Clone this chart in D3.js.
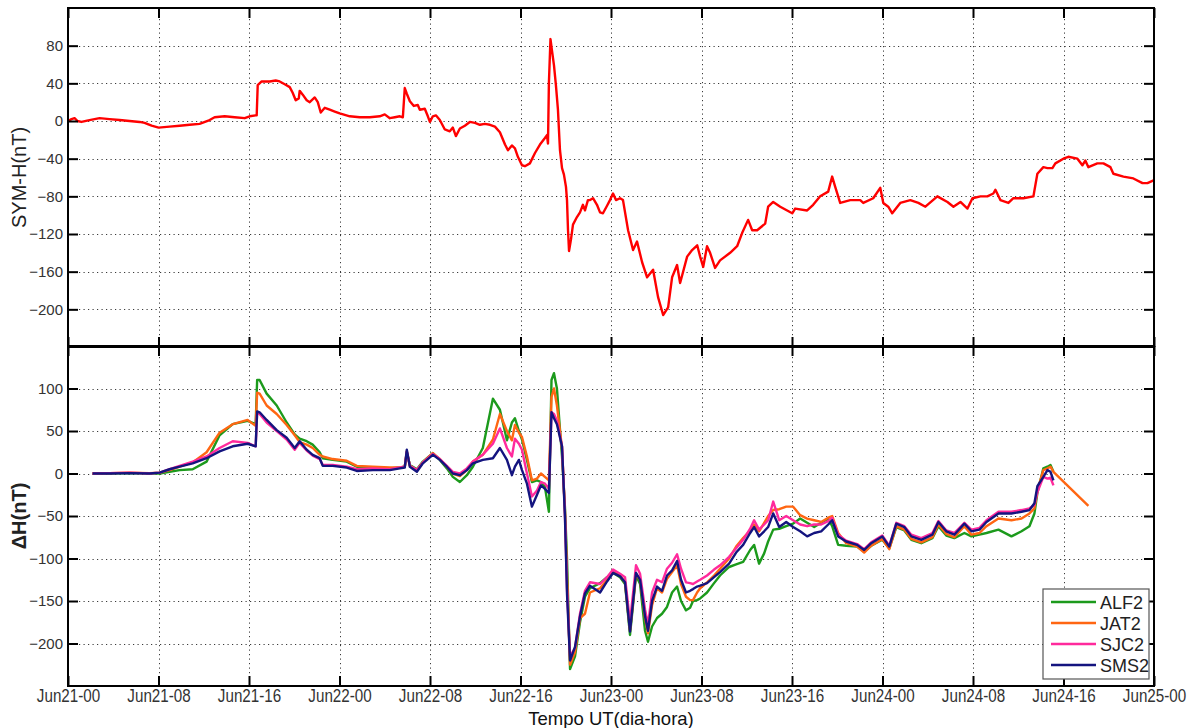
<!DOCTYPE html>
<html>
<head>
<meta charset="utf-8">
<script src="https://cdn.jsdelivr.net/npm/d3@7"></script>
<style>
  body { margin: 0; background: #fff; }
  svg { display: block; }
</style>
</head>
<body>
<svg id="chart" width="1192" height="728"></svg>
<script>
// ---- SYM-H index (hours since Jun21 00:00 UT, nT) ----
const symhHours = [
  0, 0.31, 0.58, 0.84, 1.19, 1.90, 2.79, 3.67, 4.56, 5.44, 6.33, 6.77, 7.39, 8.01, 8.98, 9.87,
  10.75, 11.63, 12.52, 12.96, 13.85, 14.73, 15.62, 16.06, 16.59, 16.68, 16.77, 17.12, 17.83, 18.36,
  18.71, 19.16, 19.60, 19.86, 20.13, 20.40, 20.48, 20.75, 21.10, 21.37, 21.81, 22.08, 22.34, 22.70,
  23.14, 23.58, 24.02, 24.91, 25.79, 26.68, 27.56, 28.00, 28.45, 28.89, 29.33, 29.60, 29.77, 29.95,
  30.22, 30.57, 30.92, 31.10, 31.54, 31.81, 31.99, 32.25, 32.52, 32.87, 33.31, 33.75, 34.02, 34.29,
  34.64, 35.08, 35.52, 35.97, 36.41, 36.85, 37.30, 37.74, 38.18, 38.63, 38.89, 39.24, 39.51, 39.77,
  40.13, 40.39, 40.83, 41.28, 41.72, 42.16, 42.34, 42.43, 42.51, 42.65, 42.78, 42.96, 43.13, 43.31,
  43.49, 43.67, 43.84, 44.02, 44.11, 44.20, 44.29, 44.46, 44.64, 44.99, 45.26, 45.52, 45.70, 45.96,
  46.14, 46.41, 46.76, 47.03, 47.29, 47.65, 47.91, 48.18, 48.44, 48.80, 49.06, 49.51, 49.95, 50.30,
  50.75, 51.19, 51.72, 52.16, 52.61, 53.05, 53.40, 53.84, 54.11, 54.73, 55.17, 55.62, 55.88, 56.15,
  56.49, 56.76, 57.20, 57.64, 58.53, 59.15, 59.59, 60.12, 60.48, 60.92, 61.63, 61.89, 62.34, 62.96,
  64.02, 64.28, 65.34, 65.87, 66.49, 67.20, 67.55, 67.82, 68.26, 69.15, 70.03, 70.30, 71.18, 71.80,
  72.07, 72.51, 72.86, 73.57, 74.46, 75.17, 75.79, 76.85, 77.74, 78.27, 78.89, 79.51, 79.95, 80.66,
  81.27, 81.80, 81.98, 82.42, 83.13, 83.57, 84.45, 85.34, 85.69, 86.22, 86.58, 87.02, 87.28, 87.99,
  88.43, 89.23, 89.67, 89.93, 90.20, 90.99, 91.53, 92.15, 92.41, 93.30, 94.18, 94.98, 95.42, 95.96
];
const symhValues = [
  0, 2, 3, 0, -1, 1, 3, 2, 1, 0, -1, -2, -5, -7, -6, -5,
  -4, -3, 1, 4, 5, 4, 3, 5, 6, 6, 38, 42, 42, 43,
  42, 39, 36, 30, 22, 24, 32, 28, 22, 20, 25, 20, 9, 14,
  12, 10, 8, 5, 4, 4, 5, 7, 3, 4, 5, 4, 35, 29,
  21, 16, 17, 12, 13, 5, -1, 5, 6, 1, -9, -11, -7, -16,
  -8, -5, -1, -2, -4, -3, -4, -6, -12, -25, -31, -26, -29, -38,
  -47, -48, -45, -34, -25, -18, -15, -24, 40, 87, 75, 59, 38, 12,
  -31, -50, -57, -70, -84, -116, -138, -126, -110, -102, -97, -89, -95, -84,
  -84, -82, -89, -97, -98, -90, -84, -77, -84, -82, -84, -116, -137, -128,
  -150, -166, -158, -187, -206, -198, -166, -153, -172, -144, -137, -132, -144, -155,
  -133, -140, -156, -148, -140, -133, -119, -105, -116, -116, -109, -91, -86, -91,
  -98, -93, -95, -89, -80, -75, -59, -70, -87, -84, -84, -87, -82, -71,
  -87, -91, -98, -87, -84, -87, -91, -80, -86, -91, -86, -93, -82, -80,
  -80, -77, -73, -84, -87, -82, -82, -80, -56, -49, -50, -50, -45, -40,
  -38, -40, -47, -42, -49, -45, -45, -49, -56, -59, -61, -66, -66, -63
];

// ---- Station ΔH (hours since Jun21 00:00 UT, nT) ----
const stationHours = [
  2.17, 3.67, 5.44, 7.21, 8.10, 8.98, 9.87, 11.02, 12.25, 13.40, 14.56, 15.88, 16.59, 16.72, 16.94,
  17.56, 18.45, 19.33, 20.04, 20.48, 21.10, 21.63, 22.25, 22.52, 23.40, 24.64, 25.53, 26.94, 28.45,
  29.33, 29.77, 29.95, 30.22, 30.84, 31.37, 32.25, 32.87, 33.49, 34.02, 34.64, 35.26, 35.79, 36.67,
  37.56, 38.18, 38.80, 39.24, 39.51, 39.86, 40.13, 40.57, 41.01, 41.46, 41.81, 42.16, 42.51, 42.74,
  42.96, 43.22, 43.67, 43.93, 44.11, 44.38, 44.82, 45.26, 45.70, 46.14, 47.03, 47.65, 48.18, 48.80,
  49.24, 49.68, 50.21, 50.57, 51.01, 51.27, 51.63, 52.07, 52.51, 52.95, 53.40, 53.84, 54.19, 54.63,
  54.99, 55.25, 55.61, 55.88, 56.49, 57.11, 57.64, 58.44, 59.06, 59.68, 60.30, 60.65, 61.09, 61.54,
  61.89, 62.34, 62.87, 63.49, 64.10, 64.72, 65.34, 65.96, 66.58, 67.20, 67.55, 68.08, 68.79, 69.76,
  70.38, 71.00, 71.98, 72.60, 73.22, 73.93, 74.55, 75.43, 76.41, 76.94, 77.64, 78.35, 79.24, 79.86,
  80.57, 81.19, 82.25, 83.40, 84.29, 84.99, 85.43, 85.69, 86.22, 86.58, 86.85, 87.11, 90.20
];
const alf2 = [
  0, 0, 0.5, 0, 0, 2, 4, 5, 14, 45, 58, 62, 58, 110, 110,
  94, 80, 60, 46, 41, 38, 34, 25, 18, 16, 14, 8, 7, 6,
  7, 8, 25, 10, 5, 14, 24, 16, 6, -4, -10, -2, 8, 30,
  88, 75, 39, 60, 65, 50, 40, 16, -10, -8, -10, -16, -45, 110,
  118, 100, 20, -40, -100, -230, -215, -175, -145, -135, -129, -122, -117, -122,
  -130, -190, -120, -130, -185, -198, -180, -170, -165, -157, -140, -133, -150, -161,
  -158, -150, -149, -147, -140, -129, -120, -110, -107, -104, -90, -84, -106, -94,
  -80, -66, -65, -62, -59, -53, -58, -63, -58, -53, -62, -84, -85, -86,
  -92, -85, -78, -88, -63, -67, -78, -82, -76, -62, -73, -76, -70, -74,
  -72, -70, -66, -74, -68, -62, -47, -23, 6, 8, 10, 2, null
];
const jat2 = [
  0, 0.5, 1, 0.5, 1, 4, 8, 13, 25, 48, 58, 63, 56, 95, 94,
  80, 70, 57, 45, 37, 34, 30, 22, 20, 17, 15, 9, 8, 7,
  7, 8, 26, 9, 4, 13, 24, 17, 8, 0, -3, 4, 14, 22,
  40, 70, 50, 39, 57, 48, 43, 20, -8, -6, 0, -4, -8, 90,
  100, 80, 30, -45, -120, -225, -210, -170, -165, -140, -135, -125, -115, -120,
  -128, -185, -118, -125, -170, -188, -155, -135, -140, -124, -116, -108, -130, -145,
  -149, -149, -140, -135, -128, -120, -112, -100, -86, -76, -67, -60, -68, -58,
  -50, -43, -42, -39, -39, -49, -53, -55, -57, -52, -50, -70, -82, -86,
  -93, -85, -77, -89, -62, -66, -77, -81, -75, -60, -71, -75, -62, -72,
  -70, -62, -53, -55, -53, -47, -41, -20, 4, 6, 8, 2, -38
];
const sjc2 = [
  0, 0.5, 1, 0, 1, 5, 9, 14, 20, 30, 38, 36, 32, 72, 70,
  60, 50, 40, 28, 36, 27, 21, 17, 10, 10, 8, 5, 6, 5,
  7, 8, 26, 9, 4, 13, 23, 17, 9, 2, 0, 6, 14, 22,
  35, 53, 30, 20, 41, 35, 28, 0, -27, -20, -10, -12, -18, 72,
  70, 62, 32, -48, -135, -215, -205, -165, -138, -128, -130, -122, -113, -118,
  -122, -175, -108, -118, -160, -178, -140, -125, -128, -112, -105, -95, -112, -128,
  -129, -130, -127, -125, -120, -113, -108, -98, -88, -78, -65, -55, -66, -60,
  -55, -33, -55, -50, -55, -60, -62, -60, -60, -56, -52, -72, -79, -83,
  -89, -81, -73, -85, -58, -62, -72, -76, -70, -56, -67, -70, -58, -66,
  -64, -55, -45, -45, -43, -41, -37, -22, -4, -6, -5, -14, null
];
const sms2 = [
  0, 0, 0.5, 0, 1, 5, 8, 12, 18, 26, 32, 35, 32, 73, 72,
  63, 51, 42, 30, 38, 28, 22, 18, 9, 9, 7, 3, 4, 4,
  6, 7, 28, 8, 2, 12, 22, 16, 8, 0, -2, 4, 12, 16,
  18, 30, 16, -2, 8, 16, 4, -12, -39, -25, -14, -18, -23, 72,
  65, 58, 32, -51, -141, -220, -204, -168, -141, -132, -140, -127, -117, -121,
  -128, -186, -117, -125, -168, -185, -150, -133, -138, -120, -114, -103, -125, -140,
  -138, -136, -133, -132, -129, -122, -116, -106, -93, -84, -70, -63, -74, -68,
  -63, -47, -63, -57, -63, -68, -74, -70, -68, -60, -55, -74, -80, -84,
  -90, -82, -74, -86, -59, -63, -74, -78, -72, -57, -68, -72, -59, -68,
  -66, -57, -47, -47, -45, -43, -35, -15, -4, 4, 2, -8, null
];

const stationNames  = ["ALF2", "JAT2", "SJC2", "SMS2"];
const stationSeries = [alf2, jat2, sjc2, sms2];
const stationColors = ["#1c9a1c", "#ff6612", "#ff2a9c", "#14147f"];

// ---- Axis ticks ----
const xTickHours = [0, 8, 16, 24, 32, 40, 48, 56, 64, 72, 80, 88, 96];
const symhTicks  = [-200, -160, -120, -80, -40, 0, 40, 80];
const dhTicks    = [-200, -150, -100, -50, 0, 50, 100];
const symhDomain = [-240, 120];
const dhDomain   = [-250, 150];

// ---- Layout ----
const svg = d3.select("#chart");
const left = 68, right = 1154;
const topPanel = { y0: 8, y1: 347 };
const botPanel = { y0: 346, y1: 686 };
const t0 = Date.UTC(2015, 5, 21, 0, 0);
const toDate = h => new Date(t0 + h * 3600e3);
const sans = "'Liberation Sans', Arial, sans-serif";

const x = d3.scaleUtc()
  .domain([toDate(0), toDate(96)])
  .range([left, right]);
const yTop = d3.scaleLinear().domain(symhDomain).range([topPanel.y1, topPanel.y0]);
const yBot = d3.scaleLinear().domain(dhDomain).range([botPanel.y1, botPanel.y0]);
const xTicks = xTickHours.map(toDate);
const fmt = d3.utcFormat("%b%d-%H");

function grid(g, yScale, yTicks, panel) {
  const gg = g.append("g").attr("class", "grid")
    .attr("stroke", "#3a3a3a").attr("stroke-width", 1).attr("stroke-dasharray", "1.2,3.3");
  gg.selectAll("line.v").data(xTicks.slice(1, -1)).join("line")
    .attr("x1", d => Math.round(x(d)) + 0.5).attr("x2", d => Math.round(x(d)) + 0.5)
    .attr("y1", panel.y0 + 11).attr("y2", panel.y1 - 11);
  gg.selectAll("line.h").data(yTicks).join("line")
    .attr("y1", d => Math.round(yScale(d)) + 0.5).attr("y2", d => Math.round(yScale(d)) + 0.5)
    .attr("x1", left + 11).attr("x2", right - 11);
}

function frame(g, yScale, yTicks, panel, showXLabels) {
  const tickStyle = sel => {
    sel.select(".domain").remove();
    sel.selectAll(".tick line").attr("stroke", "#000").attr("stroke-width", 2);
  };
  g.append("g").attr("transform", `translate(${left},0)`)
    .call(d3.axisLeft(yScale).tickValues(yTicks).tickSize(-10).tickPadding(5))
    .call(tickStyle)
    .call(s => s.selectAll(".tick text")
      .attr("fill", "#333").attr("font-size", 15).attr("font-family", sans));
  g.append("g").attr("transform", `translate(${right},0)`)
    .call(d3.axisRight(yScale).tickValues(yTicks).tickSize(-10).tickFormat(""))
    .call(tickStyle);
  g.append("g").attr("transform", `translate(0,${panel.y0})`)
    .call(d3.axisTop(x).tickValues(xTicks).tickSize(-10).tickFormat(""))
    .call(tickStyle);
  const bx = g.append("g").attr("transform", `translate(0,${panel.y1})`)
    .call(d3.axisBottom(x).tickValues(xTicks).tickSize(-10).tickPadding(3)
      .tickFormat(showXLabels ? fmt : ""))
    .call(tickStyle);
  if (showXLabels) {
    // condensed date labels
    bx.selectAll(".tick text")
      .attr("fill", "#333").attr("font-size", 19).attr("font-family", sans)
      .attr("transform", "scale(0.8,1)");
  }
  g.append("rect")
    .attr("x", left).attr("y", panel.y0)
    .attr("width", right - left).attr("height", panel.y1 - panel.y0)
    .attr("fill", "none").attr("stroke", "#000").attr("stroke-width", 2);
}

// ---- Upper panel: SYM-H ----
const gTop = svg.append("g");
grid(gTop, yTop, symhTicks, topPanel);
const symhLine = d3.line()
  .x((d, i) => x(toDate(symhHours[i])))
  .y(d => yTop(d));
gTop.append("path")
  .datum(symhValues)
  .attr("d", symhLine)
  .attr("fill", "none").attr("stroke", "#ff0000")
  .attr("stroke-width", 2.4).attr("stroke-linejoin", "round");
frame(gTop, yTop, symhTicks, topPanel, false);

// ---- Lower panel: station ΔH ----
const gBot = svg.append("g");
grid(gBot, yBot, dhTicks, botPanel);
const dhLine = d3.line()
  .defined(d => d != null)
  .x((d, i) => x(toDate(stationHours[i])))
  .y(d => yBot(d));
stationSeries.forEach((vals, k) => {
  gBot.append("path")
    .datum(vals)
    .attr("d", dhLine)
    .attr("fill", "none").attr("stroke", stationColors[k])
    .attr("stroke-width", 2.4).attr("stroke-linejoin", "round");
});
frame(gBot, yBot, dhTicks, botPanel, true);

// ---- Axis titles ----
svg.append("text")
  .attr("transform", `translate(26,${(topPanel.y0 + topPanel.y1) / 2}) rotate(-90)`)
  .attr("text-anchor", "middle")
  .attr("font-family", sans).attr("font-size", 20).attr("fill", "#222")
  .text("SYM-H(nT)");
svg.append("text")
  .attr("transform", `translate(26,${(botPanel.y0 + botPanel.y1) / 2}) rotate(-90)`)
  .attr("text-anchor", "middle")
  .attr("font-family", sans).attr("font-size", 20).attr("font-weight", "bold").attr("fill", "#222")
  .text("ΔH(nT)");
svg.append("text")
  .attr("transform", `translate(${(left + right) / 2},724.5)`)
  .attr("text-anchor", "middle")
  .attr("font-family", sans).attr("font-size", 18.5).attr("fill", "#111")
  .text("Tempo UT(dia-hora)");

// ---- Legend ----
const lg = svg.append("g").attr("transform", `translate(${right - 111},${botPanel.y1 - 97})`);
lg.append("rect")
  .attr("x", 0).attr("y", 0).attr("width", 106).attr("height", 90)
  .attr("fill", "#fff").attr("stroke", "#555").attr("stroke-width", 1.2);
stationNames.forEach((name, k) => {
  const yy = 13 + k * 21;
  lg.append("line")
    .attr("x1", 8).attr("x2", 53).attr("y1", yy).attr("y2", yy)
    .attr("stroke", stationColors[k]).attr("stroke-width", 2.4);
  lg.append("text")
    .attr("x", 57).attr("y", yy + 6.5)
    .attr("font-family", sans).attr("font-size", 18).attr("fill", "#222")
    .text(name);
});
</script>
</body>
</html>
